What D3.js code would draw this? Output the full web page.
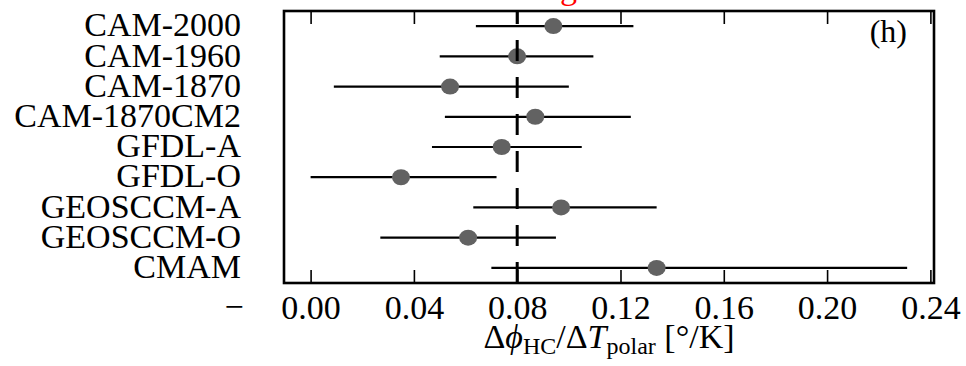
<!DOCTYPE html>
<html>
<head>
<meta charset="utf-8">
<script src="https://cdn.jsdelivr.net/npm/d3@7"></script>
<style>
  html, body { margin: 0; padding: 0; background: #fff; }
  svg { display: block; }
  text { font-family: "Liberation Serif", "DejaVu Serif", serif; }
</style>
</head>
<body>
<svg id="chart" width="966" height="366"></svg>
<script>
// Sensitivity of Hadley cell edge shift to polar temperature change, per model run
const models = ["CAM-2000", "CAM-1960", "CAM-1870", "CAM-1870CM2", "GFDL-A",
                "GFDL-O", "GEOSCCM-A", "GEOSCCM-O", "CMAM"];
const central = [0.094, 0.080, 0.054, 0.087, 0.074, 0.035, 0.097, 0.061, 0.134];
const lowBound = [0.064, 0.050, 0.009, 0.052, 0.047, 0.000, 0.063, 0.027, 0.070];
const highBound = [0.125, 0.1095, 0.100, 0.124, 0.105, 0.072, 0.134, 0.095, 0.231];
const xTicks = [0.00, 0.04, 0.08, 0.12, 0.16, 0.20, 0.24];
const referenceValue = 0.08;

const svg = d3.select("#chart");
const frame = { left: 284, right: 934, top: 11, bottom: 283 };
const FS = 34;

const x = d3.scaleLinear().domain([-0.0103, 0.2414]).range([frame.left, frame.right]);
const y = d3.scaleBand().domain(models).range([frame.top, frame.bottom]).padding(0);
const yc = m => y(m) + y.bandwidth() / 2;

const rows = models.map((m, i) => ({ m, c: central[i], lo: lowBound[i], hi: highBound[i] }));

// partially visible heading above the panel
svg.append("text")
  .attr("x", 560).attr("y", -1)
  .attr("font-size", FS).attr("fill", "#ff0000")
  .text("g");

// error bars
svg.append("g").selectAll("line").data(rows).join("line")
  .attr("x1", d => x(d.lo)).attr("x2", d => x(d.hi))
  .attr("y1", d => yc(d.m)).attr("y2", d => yc(d.m))
  .attr("stroke", "#000").attr("stroke-width", 2.2);

// central estimates
svg.append("g").selectAll("ellipse").data(rows).join("ellipse")
  .attr("cx", d => x(d.c)).attr("cy", d => yc(d.m))
  .attr("rx", 9).attr("ry", 8)
  .attr("fill", "#626262");

// reference line
svg.append("line")
  .attr("x1", x(referenceValue)).attr("x2", x(referenceValue))
  .attr("y1", frame.top).attr("y2", frame.bottom)
  .attr("stroke", "#000").attr("stroke-width", 3)
  .attr("stroke-dasharray", "21,16").attr("stroke-dashoffset", 8);

// bottom axis: inward ticks with labels
const axB = svg.append("g").attr("transform", `translate(0,${frame.bottom})`)
  .call(d3.axisBottom(x).tickValues(xTicks).tickFormat(d3.format(".2f"))
    .tickSizeInner(-13).tickSizeOuter(0).tickPadding(12));
axB.select(".domain").remove();
axB.selectAll(".tick line").attr("stroke", "#000").attr("stroke-width", 1.6);
axB.selectAll(".tick text").attr("font-size", FS).attr("fill", "#000")
  .attr("font-family", "Liberation Serif");

// top axis: inward ticks, no labels
const axT = svg.append("g").attr("transform", `translate(0,${frame.top})`)
  .call(d3.axisTop(x).tickValues(xTicks).tickFormat("")
    .tickSizeInner(-13).tickSizeOuter(0));
axT.select(".domain").remove();
axT.selectAll(".tick line").attr("stroke", "#000").attr("stroke-width", 1.6);

// category labels
const axL = svg.append("g").attr("transform", `translate(${frame.left},0)`)
  .call(d3.axisLeft(y).tickSize(0).tickPadding(43));
axL.select(".domain").remove();
axL.selectAll(".tick text").attr("font-size", FS).attr("fill", "#000")
  .attr("font-family", "Liberation Serif").attr("dy", "0.30em");

// stray minus mark left of the axis labels
svg.append("text")
  .attr("x", 234).attr("y", 318)
  .attr("text-anchor", "middle").attr("font-size", FS).attr("fill", "#000")
  .text("\u2212");

// panel frame
svg.append("rect")
  .attr("x", frame.left).attr("y", frame.top)
  .attr("width", frame.right - frame.left).attr("height", frame.bottom - frame.top)
  .attr("fill", "none").attr("stroke", "#000").attr("stroke-width", 2.6);

// panel tag
svg.append("text")
  .attr("x", 907).attr("y", 42).attr("text-anchor", "end")
  .attr("font-size", 32).attr("fill", "#000")
  .text("(h)");

// axis title
const title = svg.append("text")
  .attr("x", (frame.left + frame.right) / 2).attr("y", 348)
  .attr("text-anchor", "middle").attr("font-size", FS).attr("fill", "#000");
title.append("tspan").text("Δ");
title.append("tspan").attr("font-style", "italic").text("ϕ");
title.append("tspan").attr("font-size", 24).attr("dy", 6).text("HC");
title.append("tspan").attr("dy", -6).text("/Δ");
title.append("tspan").attr("font-style", "italic").text("T");
title.append("tspan").attr("font-size", 24).attr("dy", 6).text("polar");
title.append("tspan").attr("dy", -6).text(" [°/K]");
</script>
</body>
</html>
